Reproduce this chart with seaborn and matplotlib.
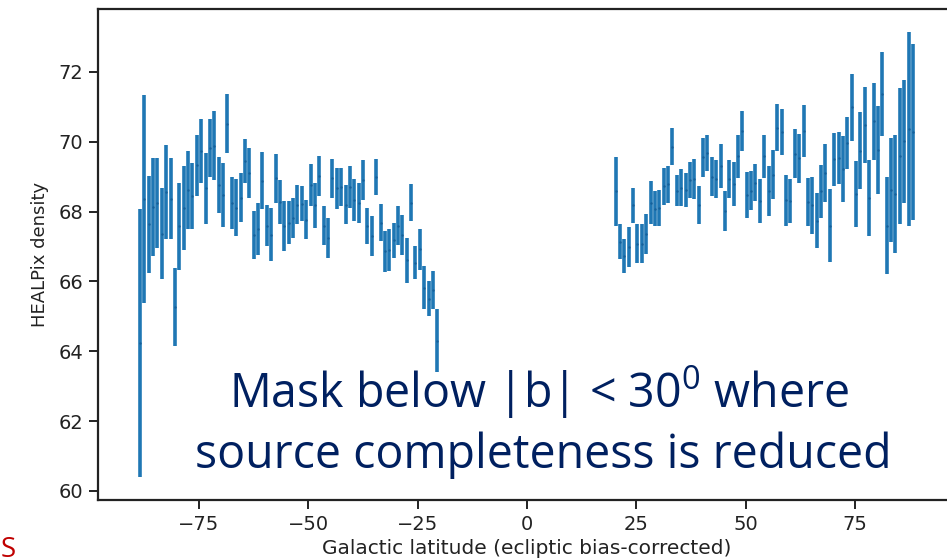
import numpy as np
import matplotlib
matplotlib.use("Agg")
import matplotlib.pyplot as plt
import seaborn as sns

# Bin centres (1 degree bins) for the southern and northern caps
lat_south = np.arange(-88.5, -20.0, 1.0)
lat_north = np.arange(20.25, 88.5, 1.0)

# Mean HEALPix density per latitude bin, southern cap
dens_south = [
    64.23, 68.37, 67.63, 68.12, 68.25, 67.37, 68.55, 68.37, 65.27, 67.58,
    68.11, 68.61, 68.44, 69.32, 69.74, 68.66, 69.83, 69.89, 68.76, 68.48,
    70.52, 68.24, 68.11, 68.40, 69.46, 69.10, 67.32, 67.51, 68.88, 67.60,
    67.34, 68.95, 68.26, 67.58, 67.68, 67.82, 68.20, 68.22, 67.77, 68.75,
    68.18, 69.02, 67.60, 67.25, 68.95, 68.66, 68.70, 68.20, 68.70, 68.32,
    68.25, 68.90, 67.58, 67.30, 68.98, 67.68, 66.86, 66.89, 67.18, 67.60,
    67.34, 66.60, 68.25, 66.54, 66.92, 65.82, 65.51, 65.75, 64.30,
]
err_south = [
    3.84, 2.98, 1.38, 1.40, 1.29, 1.31, 1.35, 1.17, 1.12, 1.24,
    1.20, 1.12, 0.95, 0.88, 0.92, 1.03, 0.83, 0.98, 0.80, 0.92,
    0.84, 0.75, 0.81, 0.70, 0.63, 0.72, 0.69, 0.74, 0.82, 0.60,
    0.76, 0.70, 0.63, 0.71, 0.62, 0.57, 0.57, 0.50, 0.57, 0.60,
    0.65, 0.58, 0.55, 0.57, 0.56, 0.60, 0.55, 0.57, 0.60, 0.60,
    0.57, 0.57, 0.52, 0.56, 0.52, 0.53, 0.59, 0.60, 0.50, 0.55,
    0.57, 0.65, 0.53, 0.48, 0.58, 0.62, 0.50, 0.55, 0.90,
]

# Mean HEALPix density per latitude bin, northern cap
dens_north = [
    68.58, 67.13, 66.72, 66.99, 68.18, 67.08, 67.08, 67.36, 68.25, 68.08,
    68.10, 68.72, 68.78, 69.86, 68.60, 68.68, 68.62, 68.90, 68.93, 68.18,
    69.55, 69.68, 69.00, 68.94, 69.30, 68.01, 68.94, 68.78, 69.58, 70.30,
    68.48, 68.60, 68.83, 68.30, 69.58, 68.58, 69.05, 70.40, 70.28, 68.33,
    68.30, 69.66, 69.52, 70.31, 68.27, 68.18, 67.74, 68.58, 69.10, 67.60,
    69.50, 69.54, 69.21, 69.96, 70.98, 68.50, 69.74, 70.48, 68.40, 70.58,
    69.75, 71.36, 67.60, 68.62, 68.51, 69.58, 70.01, 70.36, 70.28,
]
err_north = [
    0.98, 0.50, 0.49, 0.57, 0.50, 0.55, 0.55, 0.58, 0.62, 0.50,
    0.52, 0.52, 0.53, 0.52, 0.45, 0.53, 0.48, 0.51, 0.57, 0.55,
    0.55, 0.52, 0.56, 0.55, 0.62, 0.57, 0.55, 0.63, 0.62, 0.57,
    0.66, 0.55, 0.54, 0.62, 0.62, 0.72, 0.70, 0.68, 0.65, 0.73,
    0.64, 0.70, 0.70, 0.75, 0.69, 0.82, 0.78, 0.76, 0.84, 1.05,
    0.76, 0.74, 0.94, 0.74, 0.96, 0.94, 1.10, 1.10, 1.09, 1.10,
    1.26, 1.21, 1.40, 1.50, 1.69, 1.95, 1.76, 2.78, 2.52,
]

y_ticks = [60, 62, 64, 66, 68, 70, 72]
x_ticks = [-75, -50, -25, 0, 25, 50, 75]

sns.set_theme(style="ticks")
plt.rcParams["font.family"] = ["DejaVu Sans"]
plt.rcParams["mathtext.fontset"] = "custom"
plt.rcParams["mathtext.rm"] = "Open Sans"

fig = plt.figure(figsize=(9.47, 5.59), dpi=100)
ax = fig.add_axes([98 / 947, 59 / 559, 858 / 947, 491 / 559])

lat = np.concatenate([lat_south, lat_north])
dens = np.concatenate([dens_south, dens_north])
err = np.concatenate([err_south, err_north])

blue = "#1f77b4"
ax.errorbar(lat, dens, yerr=err, fmt="none", ecolor=blue, elinewidth=2.6)
sns.scatterplot(x=lat, y=dens, ax=ax, s=3, color="#16609a",
                edgecolor="#16609a", linewidth=0, legend=False, zorder=3)

ax.set_xlim(-98.1, 98.1)
ax.set_ylim(59.74, 73.8)
ax.set_xticks(x_ticks)
ax.set_yticks(y_ticks)
ax.tick_params(axis="both", labelsize=14, length=6.5, width=1.4, pad=4,
               color="#222222", labelcolor="#222222")
for side in ["left", "bottom", "top"]:
    ax.spines[side].set_linewidth(1.6)
    ax.spines[side].set_color("#222222")
ax.spines["right"].set_visible(False)

ax.set_xlabel("Galactic latitude (ecliptic bias-corrected)", fontsize=14.5,
              color="#222222", labelpad=4)
ax.set_ylabel("HEALPix density", fontsize=13, color="#222222", labelpad=7)

navy = "#002060"
fig.text(539 / 947, 1 - 392 / 559, r"Mask below |b| < 30$^{0}$ where",
         fontsize=33.5, color=navy, family="Open Sans", ha="center", va="center")
fig.text(543 / 947, 1 - 455 / 559, "source completeness is reduced",
         fontsize=33.5, color=navy, family="Open Sans", ha="center", va="center")
fig.text(1 / 947, 1 - 536 / 559, "S", fontsize=20, color="#c00000",
         family="Open Sans", ha="left", va="top")

fig.savefig("out.png", dpi=100)
